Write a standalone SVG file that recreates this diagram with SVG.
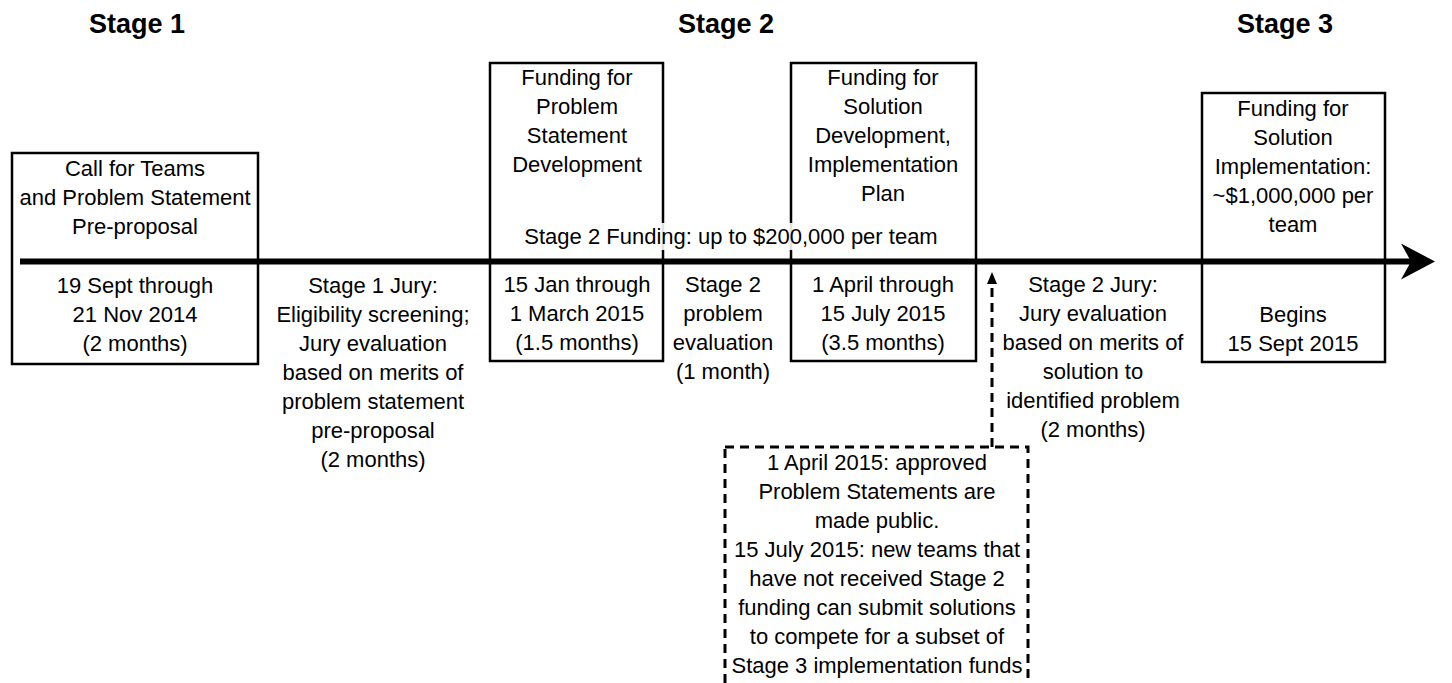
<svg xmlns="http://www.w3.org/2000/svg" width="1452" height="683" viewBox="0 0 1452 683">
<defs>
<style>
text{font-family:"Liberation Sans",Arial,sans-serif;font-size:22px;fill:#000;text-anchor:middle}
.title{font-weight:bold;font-size:27px}
.box{fill:#fff;stroke:#000;stroke-width:2.5}
.dash{fill:none;stroke:#000;stroke-width:3;stroke-dasharray:9 6}
</style>
<marker id="bigArrow" viewBox="0 0 34 36" refX="24" refY="18" markerWidth="34" markerHeight="36" markerUnits="userSpaceOnUse" orient="auto">
<path d="M0,0 L34,18 L0,36 L10,18 Z" fill="#000"/>
</marker>
<marker id="smallArrow" viewBox="0 0 12 10" refX="0" refY="5" markerWidth="12" markerHeight="10" markerUnits="userSpaceOnUse" orient="auto">
<path d="M0,0 L12,5 L0,10 Z" fill="#000"/>
</marker>
</defs>
<rect width="1452" height="683" fill="#fff"/>

<g id="titles">
<text class="title" x="137" y="33">Stage 1</text>
<text class="title" x="726" y="33">Stage 2</text>
<text class="title" x="1285" y="33">Stage 3</text>
</g>

<g id="node-call">
<rect class="box" x="12" y="153" width="246" height="211"/>
<text x="135" y="176">Call for Teams</text>
<text x="135" y="205">and Problem Statement</text>
<text x="135" y="234">Pre-proposal</text>
<text x="135" y="293">19 Sept through</text>
<text x="135" y="322">21 Nov 2014</text>
<text x="135" y="351">(2 months)</text>
</g>

<g id="node-stage1-jury">
<text x="373" y="293">Stage 1 Jury:</text>
<text x="373" y="322">Eligibility screening;</text>
<text x="373" y="351">Jury evaluation</text>
<text x="373" y="380">based on merits of</text>
<text x="373" y="409">problem statement</text>
<text x="373" y="438">pre-proposal</text>
<text x="373" y="467">(2 months)</text>
</g>

<g id="node-problem-funding">
<rect class="box" x="490" y="63" width="173" height="298"/>
<text x="577" y="85">Funding for</text>
<text x="577" y="114">Problem</text>
<text x="577" y="143">Statement</text>
<text x="577" y="172">Development</text>
<text x="577" y="292">15 Jan through</text>
<text x="577" y="321">1 March 2015</text>
<text x="577" y="350">(1.5 months)</text>
</g>

<g id="node-stage2-eval">
<text x="723" y="292">Stage 2</text>
<text x="723" y="321">problem</text>
<text x="723" y="350">evaluation</text>
<text x="723" y="379">(1 month)</text>
</g>

<g id="node-solution-funding">
<rect class="box" x="791" y="63" width="185" height="298"/>
<text x="883" y="85">Funding for</text>
<text x="883" y="114">Solution</text>
<text x="883" y="143">Development,</text>
<text x="883" y="172">Implementation</text>
<text x="883" y="201">Plan</text>
<text x="883" y="292">1 April through</text>
<text x="883" y="321">15 July 2015</text>
<text x="883" y="350">(3.5 months)</text>
</g>

<g id="node-stage2-funding">
<rect x="523" y="223" width="419" height="27" fill="#fff" fill-opacity="0.88"/>
<text x="731" y="244">Stage 2 Funding: up to $200,000 per team</text>
</g>

<g id="node-stage2-jury">
<text x="1093" y="292">Stage 2 Jury:</text>
<text x="1093" y="321">Jury evaluation</text>
<text x="1093" y="350">based on merits of</text>
<text x="1093" y="379">solution to</text>
<text x="1093" y="408">identified problem</text>
<text x="1093" y="437">(2 months)</text>
</g>

<g id="node-implementation">
<rect class="box" x="1202" y="93" width="183" height="269"/>
<text x="1293" y="116">Funding for</text>
<text x="1293" y="145">Solution</text>
<text x="1293" y="174">Implementation:</text>
<text x="1293" y="203">~$1,000,000 per</text>
<text x="1293" y="232">team</text>
<text x="1293" y="322">Begins</text>
<text x="1293" y="351">15 Sept 2015</text>
</g>

<g id="node-public">
<rect class="dash" x="725" y="447" width="303" height="250"/>
<text x="877" y="470">1 April 2015: approved</text>
<text x="877" y="499">Problem Statements are</text>
<text x="877" y="528">made public.</text>
<text x="877" y="557">15 July 2015: new teams that</text>
<text x="877" y="586">have not received Stage 2</text>
<text x="877" y="615">funding can submit solutions</text>
<text x="877" y="644">to compete for a subset of</text>
<text x="877" y="673">Stage 3 implementation funds</text>
</g>

<g id="connectors">
<line x1="20" y1="261.5" x2="1425" y2="261.5" stroke="#000" stroke-width="6" marker-end="url(#bigArrow)"/>
<line class="dash" x1="992" y1="447" x2="992" y2="284" marker-end="url(#smallArrow)"/>
</g>
</svg>
